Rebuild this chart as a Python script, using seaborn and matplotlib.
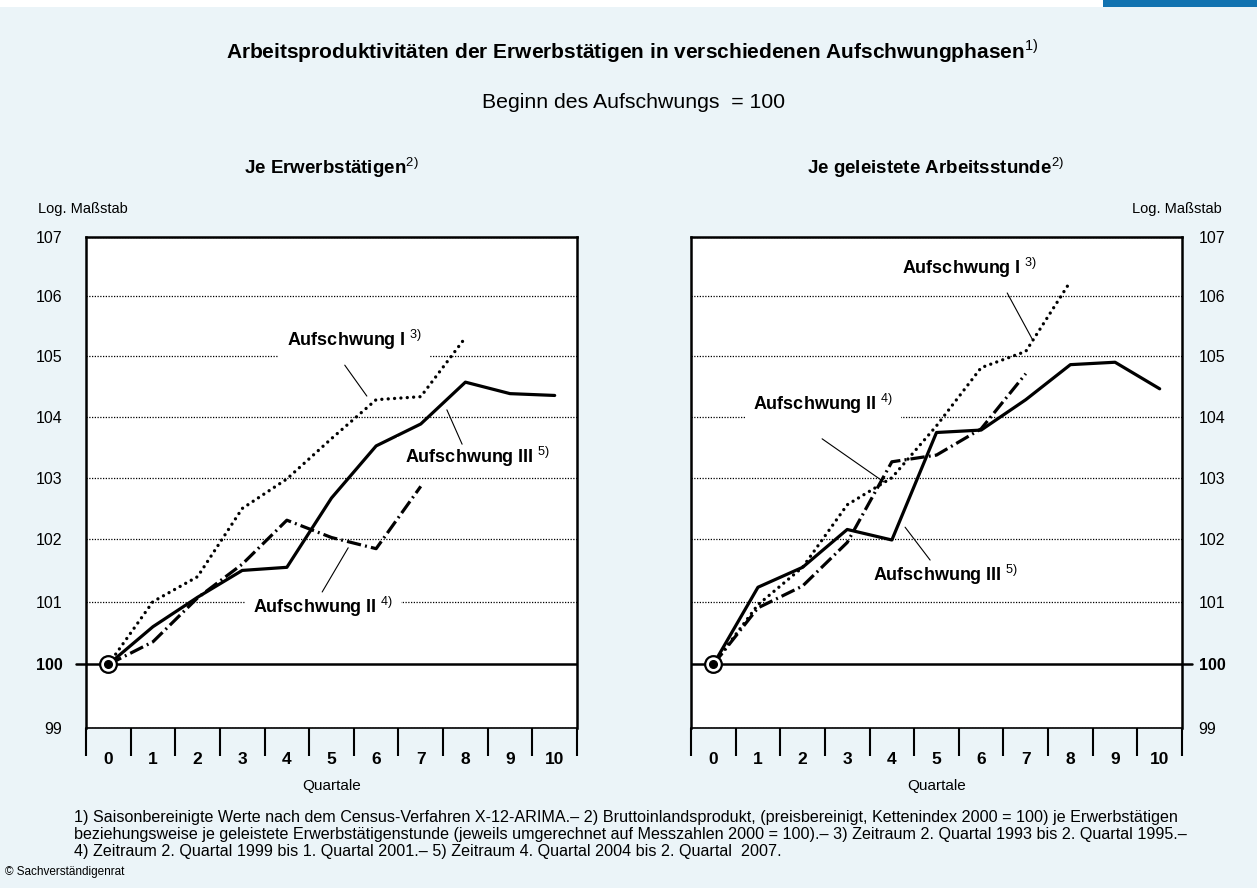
import matplotlib
matplotlib.use("Agg")
import matplotlib.pyplot as plt
import matplotlib.patches as mpatches
import seaborn as sns
import pandas as pd

# --- data ---
quartale = list(range(11))
y_ticks = [99, 100, 101, 102, 103, 104, 105, 106, 107]

# Je Erwerbstaetigen
left_I = [100, 101.0, 101.4, 102.5, 102.98, 103.64, 104.28, 104.33, 105.31]
left_II = [100, 100.36, 101.06, 101.6, 102.31, 102.03, 101.85, 102.86]
left_III = [100, 100.6, 101.07, 101.5, 101.55, 102.67, 103.52, 103.88, 104.57, 104.38, 104.35]

# Je geleistete Arbeitsstunde
right_I = [100, 100.95, 101.55, 102.56, 103.0, 103.85, 104.81, 105.08, 106.25]
right_II = [100, 100.9, 101.25, 101.95, 103.26, 103.37, 103.8, 104.71]
right_III = [100, 101.23, 101.55, 102.16, 101.99, 103.74, 103.78, 104.28, 104.86, 104.9, 104.46]

series_names = ["Aufschwung I", "Aufschwung II", "Aufschwung III"]
footnotes = [
    "1) Saisonbereinigte Werte nach dem Census-Verfahren X-12-ARIMA.\u2013 2) Bruttoinlandsprodukt, (preisbereinigt, Kettenindex 2000 = 100) je Erwerbst\u00e4tigen",
    "beziehungsweise je geleistete Erwerbst\u00e4tigenstunde (jeweils umgerechnet auf Messzahlen 2000 = 100).\u2013 3) Zeitraum 2. Quartal 1993 bis 2. Quartal 1995.\u2013",
    "4) Zeitraum 2. Quartal 1999 bis 1. Quartal 2001.\u2013 5) Zeitraum 4. Quartal 2004 bis 2. Quartal  2007.",
]

# --- style ---
sns.set_theme(style="white")
plt.rcParams["font.family"] = ["Liberation Sans", "DejaVu Sans"]
plt.rcParams["mathtext.fontset"] = "custom"
plt.rcParams["mathtext.rm"] = "Liberation Sans"
plt.rcParams["mathtext.bf"] = "Liberation Sans:bold"
for k in ["text.color", "axes.labelcolor", "xtick.color", "ytick.color"]:
    plt.rcParams[k] = "black"

bg = "#ebf4f8"
W, H = 1257, 888
fig = plt.figure(figsize=(W / 100, H / 100), dpi=100, facecolor=bg)

# white strip + blue bar at top
fig.patches.append(mpatches.Rectangle((0, 1 - 7 / H), 1, 7 / H, transform=fig.transFigure,
                                      facecolor="white", edgecolor="none"))
fig.patches.append(mpatches.Rectangle((1103 / W, 1 - 7 / H), 154 / W, 7 / H, transform=fig.transFigure,
                                      facecolor="#1172b0", edgecolor="none"))


def px_axes(x0, x1, y0, y1):
    return [x0 / W, 1 - y1 / H, (x1 - x0) / W, (y1 - y0) / H]


ax_l = fig.add_axes(px_axes(86, 577, 237, 728))
ax_r = fig.add_axes(px_axes(691, 1182, 237, 728))

styles = {
    "Aufschwung I": dict(linestyle=(0, (0.01, 1.9)), dash_capstyle="round", lw=2.4),
    "Aufschwung II": dict(linestyle=(0, (4.5, 1.3, 0.6, 1.3)), dash_capstyle="butt", lw=2.3),
    "Aufschwung III": dict(linestyle="-", lw=2.3),
}


def draw_panel(ax, s1, s2, s3, right=False):
    ax.set_facecolor("white")
    ax.set_yscale("log")
    ax.set_ylim(99, 107)
    ax.set_xlim(-0.5, 10.5)

    for v in y_ticks:
        if v == 100:
            ax.axhline(v, color="black", lw=1.8, zorder=1)
        else:
            ax.axhline(v, color="black", lw=0.9, linestyle=(0, (1, 1.2)), zorder=1)

    for name, vals in zip(series_names, [s1, s2, s3]):
        df = pd.DataFrame({"Quartal": quartale[:len(vals)], "Wert": vals})
        sns.lineplot(data=df, x="Quartal", y="Wert", ax=ax, color="black", zorder=3,
                     **styles[name])

    ax.plot(quartale[0], s3[0], marker="o", ms=12, mfc="white", mec="black", mew=1.6,
            zorder=5, clip_on=False)
    ax.plot(quartale[0], s3[0], marker="o", ms=5.5, color="black", zorder=6, clip_on=False)

    for sp in ax.spines.values():
        sp.set_color("black")
        sp.set_linewidth(1.8)
        sp.set_visible(True)
    ax.spines["bottom"].set_linewidth(1.2)

    ax.set_yticks(y_ticks)
    ax.set_yticklabels([str(v) for v in y_ticks])
    ax.set_yticks([], minor=True)
    side = "right" if right else "left"
    ax.yaxis.set_ticks_position(side)
    ax.tick_params(axis="y", which="major", length=0, pad=12 if right else 17, labelsize=11.5)
    for lab, v in zip(ax.get_yticklabels(), y_ticks):
        if v == 100:
            lab.set_fontweight("bold")
    # short tick at 100
    x_t = [1.0, 1.02] if right else [-0.02, 0.0]
    ax.plot(x_t, [100, 100], color="black", lw=1.8, transform=ax.get_yaxis_transform(),
            clip_on=False)

    ax.set_xticks(quartale)
    ax.set_xticklabels([str(q) for q in quartale], fontweight="bold", fontsize=12.5)
    ax.set_xticks([q - 0.5 for q in quartale] + [10.5], minor=True)
    ax.tick_params(axis="x", which="both", bottom=True, top=False)
    ax.tick_params(axis="x", which="major", length=0, pad=17)
    ax.tick_params(axis="x", which="minor", length=20, width=1.5, direction="out",
                   color="black")
    ax.set_xlabel("Quartale", fontsize=11, labelpad=9)
    ax.set_ylabel("")
    ax.grid(False)


draw_panel(ax_l, left_I, left_II, left_III)
draw_panel(ax_r, right_I, right_II, right_III, right=True)

box = dict(facecolor="white", edgecolor="none", pad=6)


def label(ax, text, sup, tx, ty, lx0, ly0, lx1, ly1):
    ax.text(tx, ty, text + r"$^{\mathrm{\ " + sup + "}}$", transform=ax.transAxes, ha="center",
            va="center", fontsize=13, fontweight="bold", bbox=box, zorder=4)
    ax.plot([lx0, lx1], [ly0, ly1], color="black", lw=0.8, transform=ax.transAxes, zorder=4)


label(ax_l, "Aufschwung I", "3)", 0.546, 0.790, 0.527, 0.739, 0.572, 0.676)
label(ax_l, "Aufschwung III", "5)", 0.798, 0.552, 0.735, 0.648, 0.766, 0.578)
label(ax_l, "Aufschwung II", "4)", 0.483, 0.246, 0.481, 0.277, 0.534, 0.367)

label(ax_r, "Aufschwung I", "3)", 0.566, 0.937, 0.644, 0.886, 0.695, 0.792)
label(ax_r, "Aufschwung II", "4)", 0.269, 0.660, 0.267, 0.589, 0.393, 0.501)
label(ax_r, "Aufschwung III", "5)", 0.517, 0.312, 0.436, 0.409, 0.487, 0.342)


# --- texts ---
def ftext(x, y, s, **kw):
    fig.text(x / W, 1 - y / H, s, **kw)


ftext(632, 51, r"Arbeitsproduktivitäten der Erwerbstätigen in verschiedenen Aufschwungphasen$^{\mathrm{1)}}$",
      ha="center", va="center", fontsize=15, fontweight="bold")
ftext(633, 103, "Beginn des Aufschwungs  = 100", ha="center", va="center", fontsize=15.3)
ftext(331, 168, r"Je Erwerbstätigen$^{\mathrm{2)}}$", ha="center", va="center", fontsize=13.5,
      fontweight="bold")
ftext(935, 168, r"Je geleistete Arbeitsstunde$^{\mathrm{2)}}$", ha="center", va="center",
      fontsize=13.5, fontweight="bold")
ftext(38, 209, "Log. Maßstab", ha="left", va="center", fontsize=10.5)
ftext(1222, 209, "Log. Maßstab", ha="right", va="center", fontsize=10.5)

for i, line in enumerate(footnotes):
    ftext(74, 817 + i * 17, line, ha="left", va="center", fontsize=11.6)
ftext(5, 872, "\u00a9 Sachverständigenrat", ha="left", va="center", fontsize=8.5)

fig.savefig("out.png", dpi=100, facecolor=bg)
